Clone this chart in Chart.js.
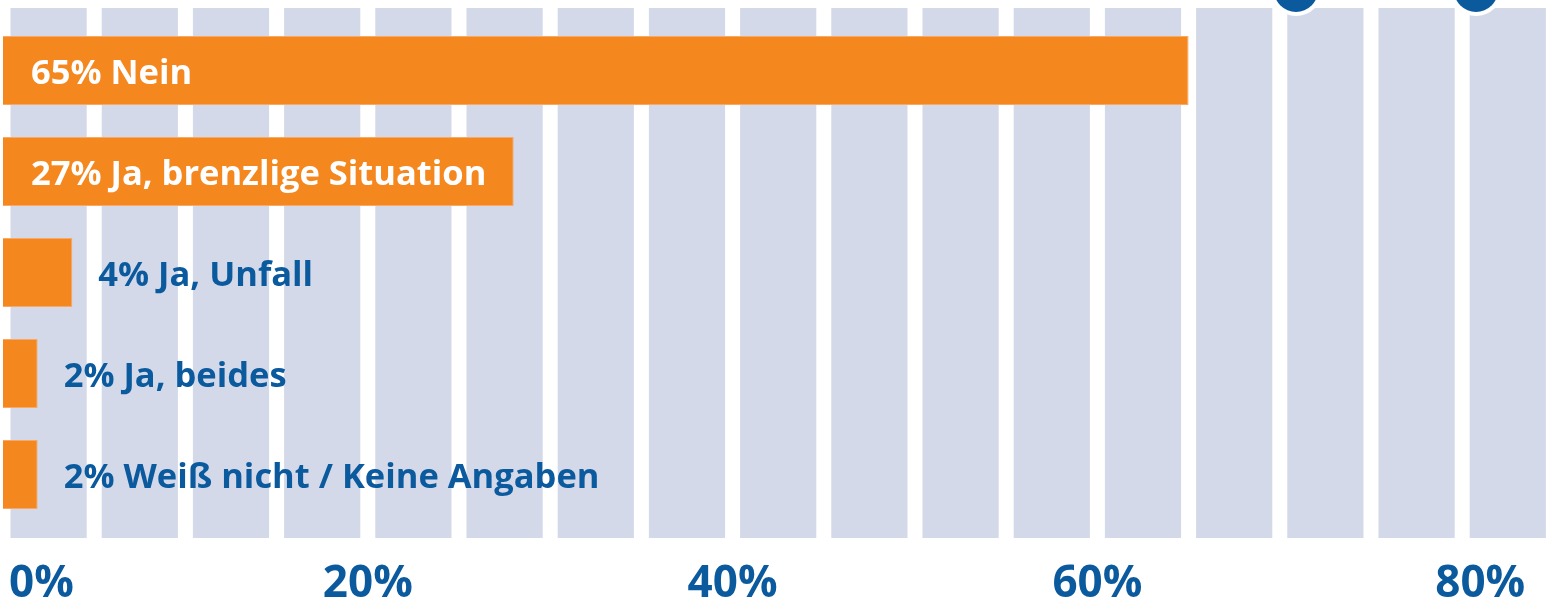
<!DOCTYPE html>
<html>
<head>
<meta charset="utf-8">
<script src="https://cdn.jsdelivr.net/npm/chart.js@4.4.1/dist/chart.umd.min.js"></script>
<style>
  html, body { margin: 0; padding: 0; background: #fff; overflow: hidden; }
  #wrap { width: 1549px; height: 605px; }
</style>
</head>
<body>
<div id="wrap"><canvas id="answersChart" width="1549" height="605"></canvas></div>
<script>
// Data
const categories = ['Nein', 'Ja, brenzlige Situation', 'Ja, Unfall', 'Ja, beides', 'Weiß nicht / Keine Angaben'];
const shares = [65, 28, 3.8, 1.9, 1.9];
const shareLabels = ['65%', '27%', '4%', '2%', '2%'];
const axisTicks = [0, 20, 40, 60, 80];

const blue = '#0b5a9e';
const orange = '#f5871f';
const stripe = '#d3d9e9';
const labelFont = '700 34.5px "Open Sans"';
const tickFont = '700 44px "Open Sans"';

// light columns behind the bars, one per 5%
const columnsPlugin = {
  id: 'columns',
  beforeDatasetsDraw(chart) {
    const { ctx, scales: { x } } = chart;
    ctx.save();
    ctx.fillStyle = stripe;
    for (let v = 0; v < x.max; v += 5) {
      const left = x.getPixelForValue(v) + 7.5;
      const right = Math.min(x.getPixelForValue(v + 5) - 7.5, chart.width);
      ctx.fillRect(left, 8, right - left, 530);
    }
    // the two dots peeking in at the top
    [1296, 1476].forEach(cx => {
      ctx.beginPath();
      ctx.arc(cx, -10, 26, 0, Math.PI * 2);
      ctx.fillStyle = '#fff';
      ctx.fill();
      ctx.beginPath();
      ctx.arc(cx, -10, 22, 0, Math.PI * 2);
      ctx.fillStyle = blue;
      ctx.fill();
    });
    ctx.restore();
  }
};

// "65% Nein" etc. inside long bars, next to short ones
const barLabelsPlugin = {
  id: 'barLabels',
  afterDatasetsDraw(chart) {
    const { ctx } = chart;
    const meta = chart.getDatasetMeta(0);
    ctx.save();
    ctx.font = labelFont;
    ctx.textBaseline = 'middle';
    ctx.textAlign = 'left';
    meta.data.forEach((bar, i) => {
      const text = shareLabels[i] + ' ' + categories[i];
      if (shares[i] > 10) {
        ctx.fillStyle = '#fff';
        ctx.fillText(text, bar.base + 28, bar.y + 4);
      } else {
        ctx.fillStyle = blue;
        ctx.fillText(text, bar.x + 26, bar.y + 4);
      }
    });
    ctx.restore();
  }
};

// percent ticks under the chart
const axisLabelsPlugin = {
  id: 'axisLabels',
  afterDraw(chart) {
    const { ctx, scales: { x } } = chart;
    ctx.save();
    ctx.font = tickFont;
    ctx.fillStyle = blue;
    ctx.textBaseline = 'alphabetic';
    axisTicks.forEach((t, i) => {
      let px = x.getPixelForValue(t);
      if (i === 0) {
        ctx.textAlign = 'left';
        px += 6;
      } else if (i === axisTicks.length - 1) {
        ctx.textAlign = 'right';
        px += 63;
      } else {
        ctx.textAlign = 'center';
      }
      ctx.fillText(t + '%', px, 597);
    });
    ctx.restore();
  }
};

var answersCtx = document.getElementById('answersChart').getContext('2d');

var answersChart = new Chart(answersCtx, {
  type: 'bar',
  data: {
    labels: categories,
    datasets: [{
      data: shares,
      backgroundColor: orange,
      borderColor: '#f9a866',
      borderWidth: 1,
      categoryPercentage: 69 / 101,
      barPercentage: 1
    }]
  },
  options: {
    indexAxis: 'y',
    responsive: false,
    animation: false,
    layout: { padding: { left: 3, right: 0, top: 20, bottom: 80 } },
    scales: {
      x: { type: 'linear', min: 0, max: 84.76, display: false },
      y: { display: false }
    },
    plugins: {
      legend: { display: false },
      tooltip: { enabled: false }
    }
  },
  plugins: [columnsPlugin, barLabelsPlugin, axisLabelsPlugin]
});
</script>
</body>
</html>
